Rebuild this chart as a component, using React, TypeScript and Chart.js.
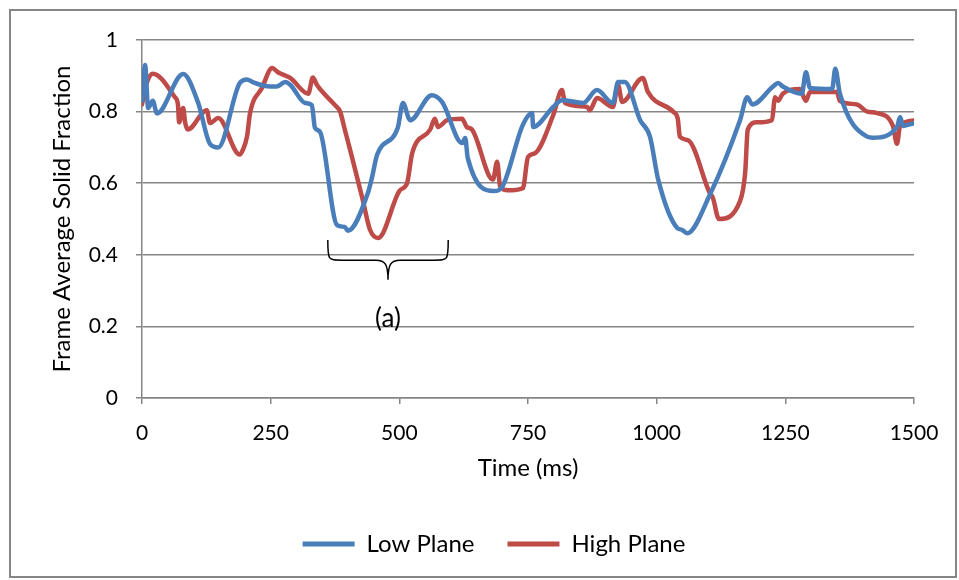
import React, { useEffect, useRef } from "react";
import { Chart, registerables } from "chart.js";

Chart.register(...registerables);

// ---- Data ----
const lowTimes = [0, 6, 12, 21, 29, 80, 109, 132, 148, 190, 204, 214, 249, 262, 278, 288, 317, 330, 336, 346, 379, 394, 400, 439, 447, 457, 497, 507, 521, 563, 583, 622, 628, 633, 684, 700, 740, 758, 760, 799, 816, 857, 884, 915, 925, 938, 968, 987, 1003, 1040, 1049, 1059, 1104, 1162, 1176, 1186, 1226, 1236, 1245, 1282, 1290, 1298, 1341, 1347, 1356, 1409, 1420, 1467, 1473, 1479, 1500];
const lowValues = [0.83, 0.93, 0.81, 0.83, 0.795, 0.905, 0.825, 0.71, 0.7, 0.88, 0.89, 0.883, 0.87, 0.87, 0.883, 0.875, 0.824, 0.818, 0.755, 0.743, 0.483, 0.478, 0.467, 0.573, 0.617, 0.68, 0.755, 0.824, 0.776, 0.846, 0.827, 0.712, 0.726, 0.67, 0.578, 0.59, 0.763, 0.796, 0.757, 0.813, 0.832, 0.824, 0.86, 0.824, 0.883, 0.883, 0.776, 0.73, 0.61, 0.475, 0.47, 0.46, 0.57, 0.776, 0.84, 0.82, 0.87, 0.88, 0.87, 0.85, 0.91, 0.866, 0.863, 0.92, 0.85, 0.73, 0.727, 0.757, 0.785, 0.76, 0.768];

const highTimes = [0, 10, 21, 64, 70, 72, 80, 84, 89, 126, 132, 148, 190, 196, 204, 210, 233, 253, 264, 288, 323, 332, 340, 375, 385, 394, 408, 429, 443, 459, 501, 515, 525, 560, 569, 575, 593, 622, 631, 641, 682, 690, 696, 711, 740, 750, 764, 799, 816, 822, 865, 870, 884, 915, 925, 933, 973, 983, 1032, 1041, 1045, 1061, 1104, 1109, 1121, 1162, 1172, 1177, 1195, 1224, 1230, 1236, 1245, 1278, 1290, 1298, 1350, 1356, 1389, 1409, 1428, 1459, 1467, 1473, 1500];
const highValues = [0.82, 0.883, 0.906, 0.84, 0.818, 0.77, 0.81, 0.768, 0.75, 0.804, 0.768, 0.782, 0.68, 0.693, 0.73, 0.796, 0.866, 0.922, 0.91, 0.894, 0.85, 0.895, 0.874, 0.818, 0.8, 0.75, 0.673, 0.553, 0.47, 0.447, 0.58, 0.6, 0.684, 0.75, 0.78, 0.757, 0.776, 0.78, 0.757, 0.75, 0.61, 0.66, 0.59, 0.58, 0.586, 0.673, 0.684, 0.79, 0.86, 0.824, 0.813, 0.804, 0.838, 0.813, 0.874, 0.827, 0.894, 0.855, 0.8, 0.78, 0.73, 0.72, 0.57, 0.56, 0.5, 0.55, 0.63, 0.75, 0.77, 0.776, 0.84, 0.83, 0.85, 0.863, 0.83, 0.855, 0.855, 0.83, 0.82, 0.8, 0.796, 0.76, 0.71, 0.76, 0.775];

const seriesNames = ["Low Plane", "High Plane"];
const xTitle = "Time (ms)";
const yTitle = "Frame Average Solid Fraction";
const annotationLabel = "(a)";
// brace annotation in data units: [startTime, endTime], [topValue, midValue, tipValue], label value
const braceTimes = [361, 595];
const braceValues = [0.441, 0.385, 0.33];
const labelValue = 0.223;

const BLUE = "#4A7EBB";
const RED = "#BE4B48";
const GRID = "#868686";
const FONT = "Lato, 'Open Sans', sans-serif";
const TICK_SIZE = 21;
const TITLE_SIZE = 24;

const toPoints = (xs: number[], ys: number[]) => xs.map((x, i) => ({ x, y: ys[i] }));

export default function App() {
  const ref = useRef<HTMLCanvasElement | null>(null);

  useEffect(() => {
    if (!ref.current) return;

    const frame = {
      id: "frame",
      beforeDraw(chart: any) {
        const { ctx, width, height } = chart;
        ctx.save();
        ctx.fillStyle = "#fff";
        ctx.fillRect(0, 0, width, height);
        ctx.strokeStyle = GRID;
        ctx.lineWidth = 2;
        ctx.strokeRect(10, 10, width - 13, height - 13);
        ctx.restore();
      },
    };

    const brace = {
      id: "brace",
      afterDatasetsDraw(chart: any) {
        const { ctx } = chart;
        const xs = chart.scales.x;
        const ys = chart.scales.y;
        const xl = xs.getPixelForValue(braceTimes[0]);
        const xr = xs.getPixelForValue(braceTimes[1]);
        const xc = (xl + xr) / 2;
        const yTop = ys.getPixelForValue(braceValues[0]);
        const yMid = ys.getPixelForValue(braceValues[1]);
        const yTip = ys.getPixelForValue(braceValues[2]);
        ctx.save();
        ctx.strokeStyle = "#000";
        ctx.lineWidth = 1.5;
        ctx.beginPath();
        ctx.moveTo(xl, yTop);
        ctx.bezierCurveTo(xl, yMid, xl, yMid, xl + 14, yMid);
        ctx.lineTo(xc - 12, yMid);
        ctx.bezierCurveTo(xc - 3, yMid, xc, yMid + 4, xc, yTip);
        ctx.moveTo(xr, yTop);
        ctx.bezierCurveTo(xr, yMid, xr, yMid, xr - 14, yMid);
        ctx.lineTo(xc + 12, yMid);
        ctx.bezierCurveTo(xc + 3, yMid, xc, yMid + 4, xc, yTip);
        ctx.stroke();
        ctx.fillStyle = "#000";
        ctx.font = `26px ${FONT}`;
        ctx.textAlign = "center";
        ctx.textBaseline = "middle";
        ctx.fillText(annotationLabel, xc, ys.getPixelForValue(labelValue));
        ctx.restore();
      },
    };

    const PAD_BOTTOM = 14;
    const PLOT_BOTTOM = 398;

    const lineStyle = {
      borderWidth: 4.5,
      pointRadius: 0,
      cubicInterpolationMode: "monotone",
      borderJoinStyle: "round",
      borderCapStyle: "round",
    };

    const chart = new Chart(ref.current, {
      type: "line",
      data: {
        datasets: [
          {
            label: seriesNames[0],
            data: toPoints(lowTimes, lowValues),
            borderColor: BLUE,
            backgroundColor: BLUE,
            ...lineStyle,
          },
          {
            label: seriesNames[1],
            data: toPoints(highTimes, highValues),
            borderColor: RED,
            backgroundColor: RED,
            ...lineStyle,
          },
        ],
      },
      options: {
        responsive: false,
        animation: false,
        events: [],
        layout: { padding: { left: 29, right: 0, top: 40, bottom: PAD_BOTTOM } },
        plugins: {
          tooltip: { enabled: false },
          legend: {
            position: "bottom",
            labels: {
              boxWidth: 52,
              boxHeight: 5,
              padding: 33,
              color: "#000",
              font: { family: FONT, size: TITLE_SIZE },
              generateLabels(chart: any) {
                const items = Chart.defaults.plugins.legend.labels.generateLabels(chart);
                return items.map((it: any) => ({ ...it, lineWidth: 0 }));
              },
            },
          },
        },
        scales: {
          x: {
            type: "linear",
            min: 0,
            max: 1500,
            ticks: {
              stepSize: 250,
              padding: 17,
              color: "#000",
              font: { family: FONT, size: TICK_SIZE },
              callback: (v: any) => String(v),
              maxRotation: 0,
            },
            grid: { drawOnChartArea: false, drawTicks: true, tickLength: 6, color: GRID, lineWidth: 1.5 },
            border: { display: true, color: GRID, width: 1.5 },
            title: {
              display: true,
              text: xTitle,
              color: "#000",
              font: { family: FONT, size: TITLE_SIZE },
              padding: { top: 0, bottom: 16 },
            },
            afterFit(s: any) {
              const lh = s.chart.legend ? s.chart.legend.height : 0;
              s.height = s.chart.height - PLOT_BOTTOM - lh - PAD_BOTTOM;
            },
          },
          y: {
            type: "linear",
            min: 0,
            max: 1,
            ticks: {
              stepSize: 0.2,
              padding: 18,
              color: "#000",
              font: { family: FONT, size: TICK_SIZE },
              callback: (v: any) => String(Number(Number(v).toFixed(2))),
            },
            grid: { drawOnChartArea: true, drawTicks: true, tickLength: 6, color: GRID, lineWidth: 1.5 },
            border: { display: true, color: GRID, width: 1.5 },
            title: {
              display: true,
              text: yTitle,
              color: "#000",
              font: { family: FONT, size: TITLE_SIZE },
              padding: { top: 18.6, bottom: 0 },
            },
            afterFit(s: any) {
              s.width = 142 - 29;
            },
          },
          yRight: {
            type: "linear",
            position: "right",
            display: true,
            ticks: { display: false },
            grid: { display: false },
            border: { display: false },
            afterFit(s: any) {
              s.width = 45;
            },
          },
        },
      },
      plugins: [frame, brace],
    } as any);

    return () => chart.destroy();
  }, []);

  return (
    <div style={{ position: "absolute", left: 0, top: 0, width: 959, height: 580 }}>
      <canvas ref={ref} width={959} height={580} style={{ width: 959, height: 580 }} />
    </div>
  );
}
